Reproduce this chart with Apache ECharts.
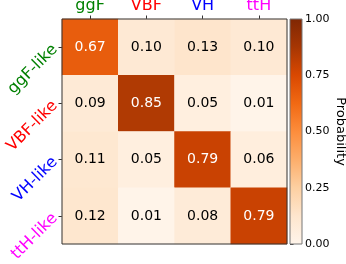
<!DOCTYPE html>
<html><head><meta charset="utf-8">
<script src="https://cdn.jsdelivr.net/npm/echarts@6/dist/echarts.min.js"></script>
<style>html,body{margin:0;padding:0;background:#fff}#c{width:346px;height:264px}</style>
</head><body><div id="c"></div>
<script>
var xCats = ['ggF', 'VBF', 'VH', 'ttH'];
var yCats = ['ggF-like', 'VBF-like', 'VH-like', 'ttH-like'];
var catColors = ['#008000', '#ff0000', '#0000ff', '#ff00ff'];
var rowGgF = [0.67, 0.10, 0.13, 0.10];
var rowVBF = [0.09, 0.85, 0.05, 0.01];
var rowVH  = [0.11, 0.05, 0.79, 0.06];
var rowTtH = [0.12, 0.01, 0.08, 0.79];
var cbarTicks = [0, 0.25, 0.5, 0.75, 1.0];
var oranges = ['#fff5eb','#fee6ce','#fdd0a2','#fdae6b','#fd8d3c','#f16913','#d94801','#a63603','#7f2704'];

var rows = [rowGgF, rowVBF, rowVH, rowTtH];
var data = [];
rows.forEach(function (r, yi) {
  r.forEach(function (v, xi) {
    data.push({value: [xi, yi, v], label: {color: v > 0.5 ? '#ffffff' : '#000000'}});
  });
});

var font = 'DejaVu Sans';
var chart = echarts.init(document.getElementById('c'), null, {renderer: 'canvas'});
chart.setOption({
  animation: false,
  textStyle: {fontFamily: font},
  grid: [
    {left: 62, top: 19, width: 225, height: 225, show: true, borderColor: '#333', borderWidth: 1,
     backgroundColor: 'transparent', z: 5, containLabel: false, outerBoundsMode: 'none'},
    {left: 290, top: 19, width: 12, height: 225, show: false, containLabel: false, outerBoundsMode: 'none'}
  ],
  xAxis: [
    {type: 'category', gridIndex: 0, position: 'top',
     data: xCats.map(function (c, i) { return {value: c, textStyle: {color: catColors[i]}}; }),
     axisLine: {show: false},
     axisTick: {show: true, alignWithLabel: true, length: 3.5, lineStyle: {color: '#333'}},
     axisLabel: {fontSize: 16, fontFamily: font, margin: 5},
     splitLine: {show: false}},
    {type: 'value', gridIndex: 1, show: false, min: 0, max: 1}
  ],
  yAxis: [
    {type: 'category', gridIndex: 0, inverse: true,
     data: yCats.map(function (c, i) { return {value: c, textStyle: {color: catColors[i]}}; }),
     axisLine: {show: false},
     axisTick: {show: true, alignWithLabel: true, length: 3.5, lineStyle: {color: '#333'}},
     axisLabel: {fontSize: 16, fontFamily: font, rotate: 45, margin: 7},
     splitLine: {show: false}},
    {type: 'value', gridIndex: 1, position: 'right', min: 0, max: 1, interval: 0.25,
     axisLine: {show: false},
     axisTick: {show: true, length: 3.5, lineStyle: {color: '#333'}},
     axisLabel: {fontSize: 11, fontFamily: font, color: '#000', margin: 3,
       formatter: function (v) { return v.toFixed(2); }},
     splitLine: {show: false},
     name: 'Probability', nameLocation: 'middle', nameRotate: -90, nameGap: 31,
     nameTextStyle: {fontSize: 13, fontFamily: font, color: '#000'}}
  ],
  visualMap: {
    type: 'continuous', min: 0, max: 1, seriesIndex: 0, show: false,
    inRange: {color: oranges}
  },
  series: [
    {type: 'heatmap', xAxisIndex: 0, yAxisIndex: 0, data: data,
     itemStyle: {borderWidth: 0},
     label: {show: true, fontSize: 14, fontFamily: font,
       formatter: function (p) { return p.value[2].toFixed(2); }},
     emphasis: {disabled: true}},
    {type: 'line', xAxisIndex: 1, yAxisIndex: 1, data: [], silent: true}
  ]
});
var rc = chart.getModel().getComponent('grid', 1).coordinateSystem.getRect();
chart.setOption({
  graphic: [{
    type: 'rect', silent: true, z: 10,
    shape: {x: rc.x, y: rc.y, width: rc.width, height: rc.height},
    style: {
      fill: new echarts.graphic.LinearGradient(0, 1, 0, 0, oranges.map(function (c, i) {
        return {offset: i / (oranges.length - 1), color: c};
      })),
      stroke: '#777', lineWidth: 1
    }
  }]
});
</script></body></html>
